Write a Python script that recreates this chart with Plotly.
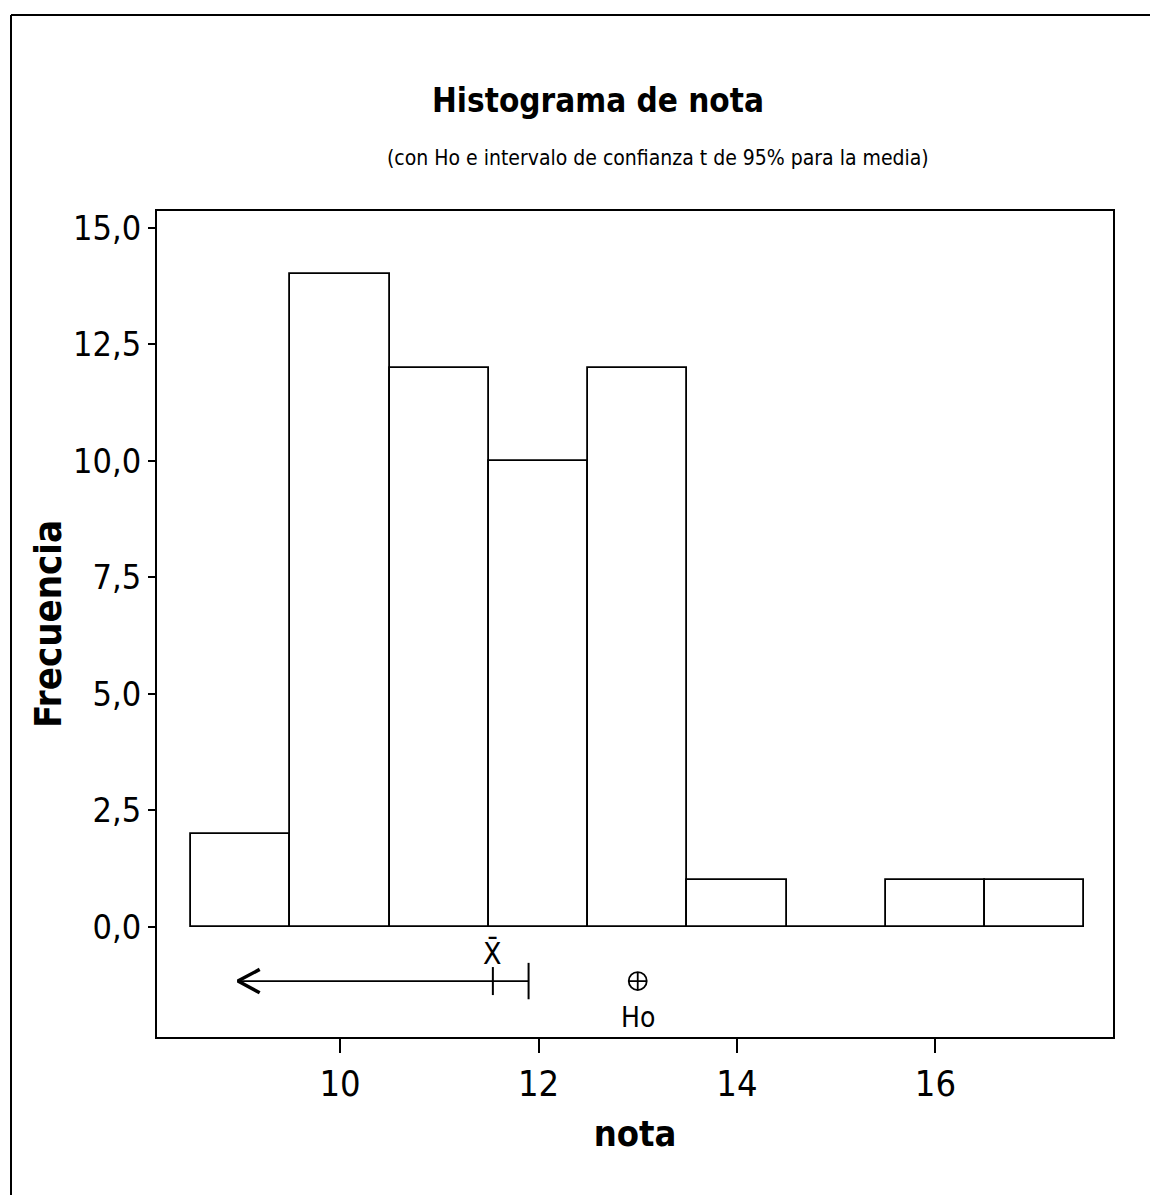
import plotly.graph_objects as go

# Data
bin_centers = [9, 10, 11, 12, 13, 14, 15, 16, 17]
frequencies = [2, 14, 12, 10, 12, 1, 0, 1, 1]
mean_value = 11.54
ci_upper = 11.90
ci_arrow_end = 8.97
h0_value = 13.0
y_ticks = [0, 2.5, 5.0, 7.5, 10.0, 12.5, 15.0]
x_ticks = [10, 12, 14, 16]

title_text = "<b>Histograma de nota</b>"
subtitle_text = "(con Ho e intervalo de confianza t de 95% para la media)"
x_title = "<b>nota</b>"
y_title = "<b>Frecuencia</b>"

FONT = "Liberation Sans Narrow, DejaVu Sans Condensed, Arial, sans-serif"
ci_y = -1.16
chev_dx, chev_dy = 0.22, 0.25  # arrow-head drawing style offsets

W, H = 1150, 1187
pl, pr, pt, pb = 149, 45, 203, 158
pw, ph = W - pl - pr, H - pt - pb


def px_x(v):
    return (v - pl) / pw


def px_y(v):
    return (H - v - pb) / ph


fig = go.Figure()
fig.add_trace(go.Bar(
    x=bin_centers, y=frequencies, width=1.0,
    marker=dict(color="white", line=dict(color="black", width=1.8)),
    showlegend=False, hoverinfo="x+y"))

# confidence interval line
fig.add_trace(go.Scatter(
    x=[ci_arrow_end, ci_upper], y=[ci_y, ci_y], mode="lines",
    line=dict(color="black", width=1.8), showlegend=False, hoverinfo="skip"))
# arrow head (open chevron)
fig.add_trace(go.Scatter(
    x=[ci_arrow_end + chev_dx, ci_arrow_end, ci_arrow_end + chev_dx],
    y=[ci_y + chev_dy, ci_y, ci_y - chev_dy], mode="lines",
    line=dict(color="black", width=3.5), showlegend=False, hoverinfo="skip"))
# mean tick and upper bound tick
fig.add_trace(go.Scatter(
    x=[mean_value], y=[ci_y], mode="markers",
    marker=dict(symbol="line-ns", size=20, color="black", line=dict(color="black", width=2)),
    showlegend=False, hoverinfo="skip"))
fig.add_trace(go.Scatter(
    x=[ci_upper], y=[ci_y], mode="markers",
    marker=dict(symbol="line-ns", size=26, color="black", line=dict(color="black", width=2)),
    showlegend=False, hoverinfo="skip"))
# H0 marker
fig.add_trace(go.Scatter(
    x=[h0_value], y=[ci_y], mode="markers",
    marker=dict(symbol="circle-cross-open", size=18, color="black",
                line=dict(color="black", width=1.8)),
    showlegend=False, hoverinfo="skip"))

fig.add_annotation(x=mean_value, y=ci_y, xref="x", yref="y", text="X\u0304",
                   showarrow=False, yshift=28, font=dict(family=FONT, size=30, color="black"))
fig.add_annotation(x=h0_value, y=ci_y, xref="x", yref="y", text="Ho",
                   showarrow=False, yshift=-36, font=dict(family=FONT, size=28, color="black"))

# titles
fig.add_annotation(x=px_x(590), y=px_y(92), xref="paper", yref="paper", text=title_text,
                   xanchor="center", yanchor="middle",
                   showarrow=False, font=dict(family=FONT, size=33, color="black"))
fig.add_annotation(x=px_x(650), y=px_y(150), xref="paper", yref="paper", text=subtitle_text,
                   xanchor="center", yanchor="middle",
                   showarrow=False, font=dict(family=FONT, size=21, color="black"))

fig.update_layout(
    width=W, height=H,
    margin=dict(l=pl, r=pr, t=pt, b=pb),
    paper_bgcolor="white", plot_bgcolor="white",
    font=dict(family=FONT, color="black"),
    separators=", ",
    bargap=0,
)

fig.update_xaxes(
    range=[8.155, 17.79], tickvals=x_ticks, ticks="outside", ticklen=14,
    tickwidth=1.5, tickcolor="black", showline=True, linecolor="black", linewidth=2,
    mirror=True, showgrid=False, zeroline=False,
    tickfont=dict(family=FONT, size=36, color="black"),
    title=dict(text=x_title, font=dict(family=FONT, size=36, color="black"), standoff=18),
)
fig.update_yaxes(
    range=[-2.36, 15.36], tickvals=y_ticks, tickformat=".1f", ticks="outside", ticklen=7,
    tickwidth=1.5, tickcolor="black", showline=True, linecolor="black", linewidth=2,
    mirror=True, showgrid=False, zeroline=False,
    tickfont=dict(family=FONT, size=34, color="black"),
    title=dict(text=y_title, font=dict(family=FONT, size=38, color="black"), standoff=0),
)

# outer frame (top and left edges of the cropped figure border)
fig.add_shape(type="line", xref="paper", yref="paper",
              x0=px_x(3), x1=px_x(W + 20), y0=px_y(7), y1=px_y(7),
              line=dict(color="black", width=2))
fig.add_shape(type="line", xref="paper", yref="paper",
              x0=px_x(3), x1=px_x(3), y0=px_y(7), y1=px_y(H + 20),
              line=dict(color="black", width=2))

fig.write_html("out.html")
